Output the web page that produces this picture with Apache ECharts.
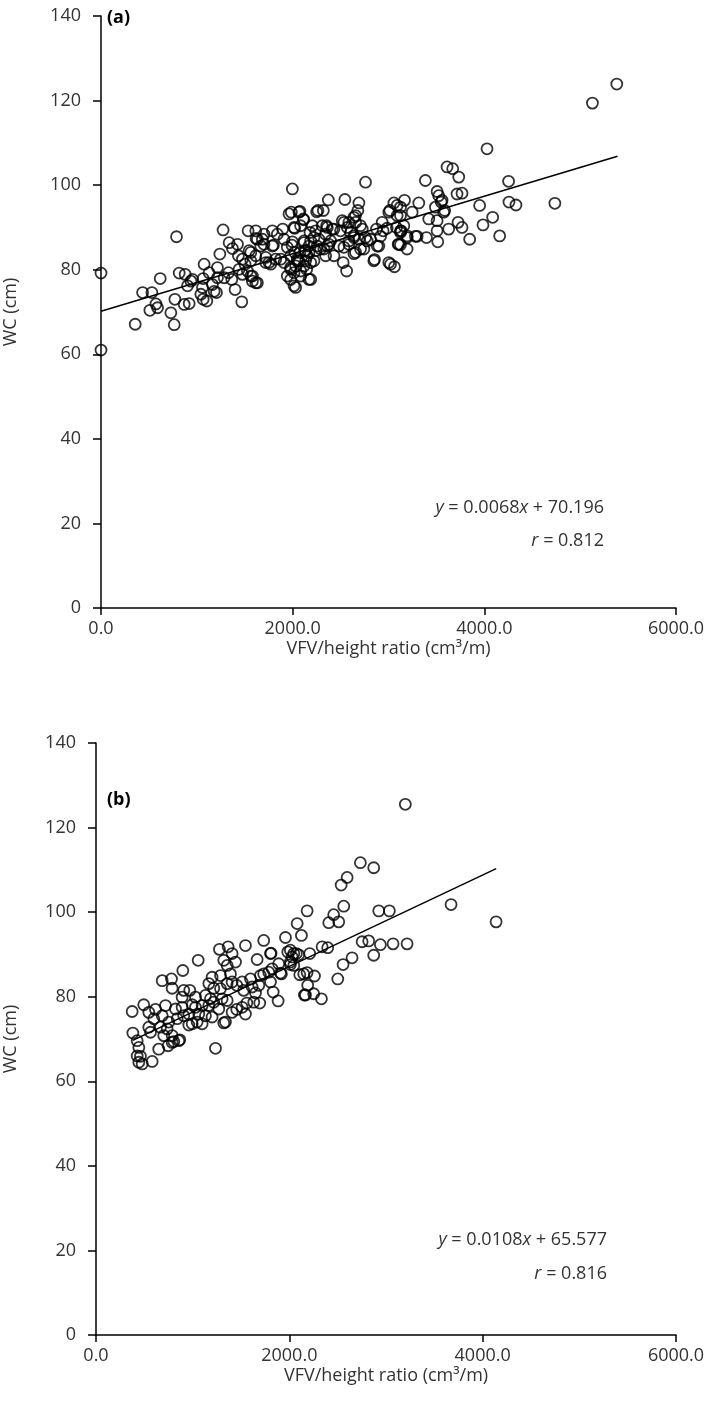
<!DOCTYPE html>
<html>
<head>
<meta charset="utf-8">
<script src="https://cdn.jsdelivr.net/npm/echarts@6/dist/echarts.min.js"></script>
<style>
html, body { margin: 0; padding: 0; background: #ffffff; }
#chart { width: 709px; height: 1418px; }
</style>
</head>
<body>
<div id="chart"></div>
<script>
// panel (a): [VFV/height ratio, WC]
const pointsA = [
  [0,79.2],[0,61],[357,67.1],[434,74.6],[531,74.6],[510,70.4],[590,71],[573,71.9],[618,77.9],[771,73],[729,69.8],[764,67],
  [788,87.8],[816,79.2],[878,78.9],[868,71.8],[920,72],[903,76.2],[938,77.3],[955,77.7],[1059,75.8],[1042,74.2],[1066,73],
  [1104,72.6],[1076,81.3],[1128,79.3],[1066,77.9],[1163,76.5],[1181,74.9],[1205,74.6],[1215,80.5],[1240,83.7],[1215,78.1],
  [1274,89.4],[1285,78.1],[1330,79.3],[1365,77.7],[1337,86.4],[1372,85],[1424,86],[1399,75.3],[1434,83.3],[1476,82.5],
  [1503,81.3],[1441,80.1],[1476,78.9],[1528,79.7],[1469,72.4],[1535,89.2],[1545,84.5],[1563,82.1],[1580,78.5],[1580,77.3],
  [1618,87.4],[1632,76.9],[1684,87.2],[1701,86],[1719,81.7],[1771,81.3],[1788,89.2],[1799,85.8],[1875,82.5],[1896,89.6],
  [1944,78.5],[1979,80.1],[1997,99.1],[1962,93.2],[1986,93.6],[2076,93.8],[2115,91.8],[2021,89.8],[1993,85.8],[2021,84.1],
  [2031,75.8],[2066,82.1],[2118,86.4],[2170,77.7],[1979,77.7],
  [2760,100.7],[2372,96.5],[2545,96.6],[2691,95.8],[2680,94],[3056,95.8],[3167,96.4],[3125,94.8],[3014,94],[2250,93.7],
  [2320,94],[2517,91.6],[2639,92.4],[2656,91.2],[2934,91.2],[2986,89.8],[3090,92.8],[3083,90],[3132,89.2],[3194,87.6],
  [3108,86],[3194,84.9],[3021,81.3],[3062,80.7],[2854,82.4],[2527,81.7],[2563,79.7],[2708,84.9],[2639,83.8],[2812,87.2],
  [2882,85.6],[2917,87.9],[2875,89.6],[2726,89.6],[2760,87.6],[2570,90],[2604,88.8],[2639,87.6],[2587,86.8],[2483,85.6],
  [2500,89.2],[2431,89.6],[2361,90],[2309,90.4],[2344,88.4],[2396,86.8],[2361,85.6],[2274,87.2],[2222,87.6],[2240,89.2],
  [2181,88.8],[2170,85.6],[2135,84.5],[2240,84.5],[2292,84.9],[2153,83.3],[2049,82.5],[1979,83.3],[1944,85.3],[1997,86.6],
  [1910,87.2],[1840,88.4],[1701,88.4],[1632,87.2],[1615,89.2],[1667,85.6],[1788,85.6],[1563,84.1],[1615,83.3],[1719,82.9],
  [1753,81.7],[1823,82.5],[1910,81.7],[1979,80.5],[2014,79.3],[2049,82.1],[2118,80.9],[2083,78.5],[2014,76.2],[2188,77.7],
  [2222,82.1],[1563,78.5],[1615,76.9],
  [2083,90.4],[2014,90],[2111,92],[2066,93.6],[2188,86.8],[2118,86.8],[2205,90.4],[2170,84.1],[2125,84.5],[2076,84.1],
  [2188,81.7],[2135,82.1],[2031,80.9],[2083,79.7],[2146,80.1],[2431,83.3],[2344,83.3],[2413,89.6],[2354,90.4],[2264,94],
  [2326,84.9],[2257,85.6],[2378,86],[2535,85.3],[2587,86],[2656,84.1],[2743,84.9],[2778,86.8],[2691,87.2],[2639,88],
  [2708,90.4],[2587,91.2],[2535,91.2],[2656,92.8],[2847,82.1],[3003,81.7],[3101,86],[2899,85.6],[2944,89.2],[3003,93.6],
  [3090,95.2],[3125,92.8],[3125,89.2],[3160,90.4],[3247,93.6],[3299,87.9],[3316,95.8],[3396,87.6],[3420,92],[3385,101.1],
  [3507,98.5],[3524,97.5],[3549,96],[3586,94],[3507,91.6],[3507,89.2],[3514,86.6],[3628,89.6],[3726,91.2],[3767,90],
  [3715,97.9],[3767,98.1],[3733,101.9],[3611,104.3],[3670,103.9],[4028,108.6],[4253,100.9],[4257,96],[4330,95.3],[3951,95.2],
  [4087,92.4],[3986,90.6],[4160,88],[3847,87.2],[4736,95.7],[5128,119.4],[5382,123.9],
  [3490,94.8],[3576,93.6],[3559,96.4],[3194,88],[3281,87.9],[3125,85.9],[3125,88.8]
]

// panel (b)
const pointsB = [
  [3200,125.5],[2735,111.7],[2873,110.5],[2598,108.2],[2536,106.4],[3673,101.8],[4139,97.7],[2925,100.3],[3035,100.3],
  [2184,100.3],[2563,101.4],[2459,99.4],[2408,97.5],[2511,97.7],[2081,97.3],[2125,94.5],[2753,93],[2821,93.2],[2942,92.3],
  [3073,92.5],[3218,92.5],[2339,91.8],[2397,91.6],[2011,91],[2046,90.2],[2097,89.9],[2211,90.2],[2873,89.8],[2649,89.2],
  [2556,87.6],[2501,84.2],[2011,87.6],[2108,85.2],[2184,85.7],[2260,84.9],[2190,82.7],[2156,80.4],[2252,80.7],[2332,79.5],
  [1735,93.3],[1960,94],[1811,90.3],[1667,88.8],[1984,90.6],[2073,90.2],[2029,89.4],[2046,87.4],[2011,88.2],[1890,87.8],
  [1822,86.6],[1735,85.4],[1701,85],[1787,85.8],[1908,85.6],[1598,84.2],[1684,82.7],[1650,80.9],[1632,78.7],[1694,78.5],
  [1805,83.5],[1833,81.1],[1884,79],
  [1546,92.1],[1277,91.2],[1367,91.8],[1408,90.2],[1443,88.2],[1322,88.6],[1357,87.4],[1057,88.6],[898,86.2],[685,83.8],
  [781,84.2],[788,82],[908,81.5],[970,81.5],[891,79.9],[1201,84.6],[1288,85],[1167,83.1],[1218,82],[1391,85.4],[1408,83.5],
  [1357,83.1],[1288,81.9],[1512,83.5],[1615,82.3],[1528,81.5],[1132,80.3],[1184,79.5],[1029,79.9],[995,78.1],[1098,77.9],
  [1167,77.9],[1218,78.7],[1270,77.1],[1201,75.2],[1132,75.5],[1063,75.9],[1029,77.5],[1305,79.5],[1357,79.1],[1408,76.3],
  [1512,77.5],[1546,75.9],[1339,74],[1236,67.8],[1322,73.8],
  [374,76.5],[494,78.1],[546,76.3],[615,77],[598,74.8],[685,75.5],[719,77.9],[822,77.1],[891,77.5],[840,74.8],[908,75.5],
  [960,75.9],[753,74],[667,72.8],[736,72.4],[701,70.8],[788,70.8],[856,69.6],[788,69.2],[649,67.6],[564,71.6],[546,72.8],
  [381,71.4],[426,69.6],[443,68],[426,66],[478,64.1],[443,64.5],[581,64.7],[960,73.3],[995,73.6],[1046,74],[1098,73.6],
  [1805,90.2],[2149,85.4],[2167,80.4],[1918,85.4],[1456,82.7],[1560,78.5],[1456,77],[460,65.9],[746,68.4],[867,69.8],[805,69.4]
]

// regression: slope, intercept, and x span of the drawn line
const fitA = [0.0068, 70.196]
const fitSpanA = [0, 5390]
const fitB = [0.0108, 65.577]
const fitSpanB = [380, 4140]

const xTicks = [0, 6000, 2000]   // min, max, interval
const yTicks = [0, 140, 20]

const eqA = ["{i|y} = 0.0068{i|x} + 70.196", "{i|r} = 0.812"]
const eqB = ["{i|y} = 0.0108{i|x} + 65.577", "{i|r} = 0.816"]

const fontName = "Open Sans"
const textColor = "#333333"

function fitLine(fit, span) {
  return span.map((x) => [x, fit[0] * x + fit[1]])
}

function xAxisFor(idx) {
  return {
    gridIndex: idx,
    type: "value",
    min: xTicks[0],
    max: xTicks[1],
    interval: xTicks[2],
    name: "VFV/height ratio (cm³/m)",
    nameLocation: "middle",
    nameGap: 32,
    nameTextStyle: { fontFamily: fontName, fontSize: 18, color: textColor },
    axisLine: { onZero: false, lineStyle: { color: "#000", width: 1.5 } },
    axisTick: { show: true, inside: false, length: 7, lineStyle: { color: "#000", width: 1.5 } },
    axisLabel: {
      margin: 12,
      fontFamily: fontName,
      fontSize: 18,
      color: textColor,
      formatter: (v) => v.toFixed(1),
    },
    splitLine: { show: false },
  }
}

function yAxisFor(idx, gap) {
  return {
    gridIndex: idx,
    type: "value",
    min: yTicks[0],
    max: yTicks[1],
    interval: yTicks[2],
    name: "WC (cm)",
    nameLocation: "middle",
    nameRotate: 90,
    nameGap: gap,
    nameTextStyle: { fontFamily: fontName, fontSize: 18, color: textColor },
    axisLine: { show: true, onZero: false, lineStyle: { color: "#000", width: 1.5 } },
    axisTick: { show: true, inside: false, length: 8, lineStyle: { color: "#000", width: 1.5 } },
    axisLabel: { margin: 20, fontFamily: fontName, fontSize: 18, color: textColor },
    splitLine: { show: false },
  }
}

function scatterFor(idx, pts) {
  return {
    type: "scatter",
    xAxisIndex: idx,
    yAxisIndex: idx,
    data: pts,
    symbol: "circle",
    symbolSize: 11,
    itemStyle: { color: "rgba(0,0,0,0)", borderColor: "#000", borderWidth: 1.8 },
    z: 3,
  }
}

function lineFor(idx, pts) {
  return {
    type: "line",
    xAxisIndex: idx,
    yAxisIndex: idx,
    data: pts,
    showSymbol: false,
    symbol: "none",
    lineStyle: { color: "#000", width: 1.5 },
    z: 2,
  }
}

function eqText(lines, right, y1, y2) {
  const rich = { i: { fontStyle: "italic", fontFamily: fontName, fontSize: 18, fill: textColor } }
  return [
    {
      type: "text",
      x: right,
      y: y1,
      style: { text: lines[0], rich: rich, align: "right", verticalAlign: "middle", font: "18px " + fontName, fill: textColor },
    },
    {
      type: "text",
      x: right,
      y: y2,
      style: { text: lines[1], rich: rich, align: "right", verticalAlign: "middle", font: "18px " + fontName, fill: textColor },
    },
  ]
}

let myCharts = echarts.init(document.getElementById("chart"), null, { renderer: "canvas" })

let option = {
  backgroundColor: "#ffffff",
  animation: false,
  grid: [
    { left: 101, top: 16, width: 575, height: 592, containLabel: false, outerBoundsMode: "none" },
    { left: 96, top: 743, width: 580, height: 592, containLabel: false, outerBoundsMode: "none" },
  ],
  xAxis: [xAxisFor(0), xAxisFor(1)],
  yAxis: [yAxisFor(0, 81), yAxisFor(1, 76)],
  series: [
    lineFor(0, fitLine(fitA, fitSpanA)),
    scatterFor(0, pointsA),
    lineFor(1, fitLine(fitB, fitSpanB)),
    scatterFor(1, pointsB),
  ],
  graphic: [
    {
      type: "text",
      x: 107,
      y: 18,
      style: { text: "(a)", font: "bold 18px " + fontName, fill: "#000", verticalAlign: "middle" },
    },
    {
      type: "text",
      x: 107,
      y: 800,
      style: { text: "(b)", font: "bold 18px " + fontName, fill: "#000", verticalAlign: "middle" },
    },
    ...eqText(eqA, 604, 508, 541),
    ...eqText(eqB, 607, 1240, 1274),
  ],
}

myCharts.setOption(option)
</script>
</body>
</html>
